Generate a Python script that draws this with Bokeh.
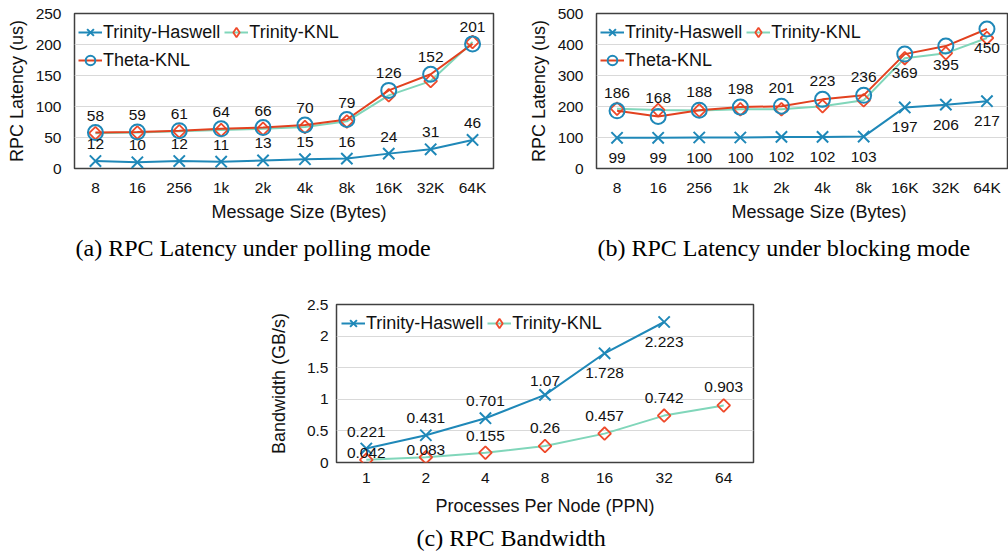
from bokeh.plotting import figure
from bokeh.models import (FactorRange, Range1d, ColumnDataSource, LabelSet, Legend,
                          LegendItem, Title, FixedTicker, NumeralTickFormatter, Spacer)
from bokeh.core.properties import value
from bokeh.layouts import column, row
from bokeh.embed import file_html
from bokeh.resources import INLINE

# ---------------- data ----------------
sizes = ["8", "16", "256", "1k", "2k", "4k", "8k", "16K", "32K", "64K"]
poll_haswell = [12, 10, 12, 11, 13, 15, 16, 24, 31, 46]
poll_trinity_knl = [57, 58, 60, 62, 64, 67, 76, 118, 141, 204]
poll_theta_knl = [58, 59, 61, 64, 66, 70, 79, 126, 152, 201]
poll_yticks = [0, 50, 100, 150, 200, 250]

block_haswell = [99, 99, 100, 100, 102, 102, 103, 197, 206, 217]
block_trinity_knl = [193, 189, 187, 191, 191, 201, 220, 356, 372, 421]
block_theta_knl = [186, 168, 188, 198, 201, 223, 236, 369, 395, 450]
block_yticks = [0, 100, 200, 300, 400, 500]

ppn = ["1", "2", "4", "8", "16", "32", "64"]
bw_haswell = [0.221, 0.431, 0.701, 1.07, 1.728, 2.223]
bw_trinity_knl = [0.042, 0.083, 0.155, 0.26, 0.457, 0.742, 0.903]
bw_yticks = [0, 0.5, 1, 1.5, 2, 2.5]

# ---------------- style ----------------
FONT = "Liberation Sans"
SERIF = "Liberation Serif"
BLUE = "#1f88b8"
RED = "#e2411f"
TEAL = "#80d6ba"
ORANGE = "#ef4a2b"
TXT = "#111111"


def base_fig(cats, ymax, yticks, width, height, ml, mr, mt, mb, ylabel,
             y_lab_standoff, x_lab_standoff, fmt=None):
    p = figure(x_range=FactorRange(factors=cats), y_range=Range1d(0, ymax),
               width=width, height=height, output_backend="svg",
               toolbar_location=None, min_border_left=ml, min_border_right=mr,
               min_border_top=mt, min_border_bottom=mb)
    # range far outside the view: glyphs on it are clipped, used for legend keys only
    p.extra_y_ranges = {"legend_only": Range1d(-2e9, -1e9)}
    p.outline_line_color = "#404040"
    p.outline_line_width = 1.5
    p.xgrid.grid_line_color = None
    p.ygrid.grid_line_color = "#d9d9d9"
    p.ygrid.grid_line_width = 1
    p.yaxis.ticker = FixedTicker(ticks=yticks)
    if fmt is not None:
        p.yaxis.formatter = NumeralTickFormatter(format=fmt)
    for ax in (p.xaxis[0], p.yaxis[0]):
        ax.axis_line_color = None
        ax.major_tick_line_color = None
        ax.minor_tick_line_color = None
        ax.major_tick_out = 0
        ax.major_tick_in = 0
        ax.major_label_text_font = FONT
        ax.major_label_text_font_size = "15.5px"
        ax.major_label_text_color = TXT
        ax.axis_label_text_font = FONT
        ax.axis_label_text_font_size = "18px"
        ax.axis_label_text_font_style = "normal"
        ax.axis_label_text_color = TXT
    p.yaxis.major_label_standoff = y_lab_standoff
    p.xaxis.major_label_standoff = x_lab_standoff
    p.yaxis.axis_label = ylabel
    p.yaxis.axis_label_standoff = 6
    return p


def add_xtitle(p, xlabel, xoff, xstand):
    p.add_layout(Title(text=xlabel, align="left", offset=xoff, standoff=xstand,
                       text_font=FONT, text_font_size="18px",
                       text_font_style="normal", text_color=TXT), "below")


def add_caption(p, caption, coff, cstand):
    p.add_layout(Title(text=caption, align="left", offset=coff, standoff=cstand,
                       text_font=SERIF, text_font_size="24px",
                       text_font_style="normal", text_color="black"), "below")


def series(p, cats, vals, kind):
    src = ColumnDataSource(dict(x=cats[:len(vals)], y=vals))
    if kind == "haswell":
        ln = p.line("x", "y", source=src, line_color=BLUE, line_width=2)
        mk = p.scatter("x", "y", source=src, marker="x", size=16,
                       line_color=BLUE, line_width=2)
        return [ln, mk]
    if kind == "trinity":
        ln = p.line("x", "y", source=src, line_color=TEAL, line_width=2)
        p.scatter("x", "y", source=src, marker="square", size=9,
                  angle=0.785398, line_color=ORANGE, line_width=1.8,
                  fill_color=None)
        # copy on an off-screen range: never visible, gives the legend a diamond key
        proxy = p.scatter("x", "y", source=src, y_range_name="legend_only",
                          marker="diamond", size=12, line_color=ORANGE,
                          line_width=1.8, fill_color=None)
        return [ln, proxy]
    ln = p.line("x", "y", source=src, line_color=RED, line_width=2)
    mk = p.scatter("x", "y", source=src, marker="circle", size=15,
                   line_color=BLUE, line_width=2, fill_color=None)
    return [ln, mk]


def labels(p, cats, vals, offsets):
    src = ColumnDataSource(dict(x=cats[:len(vals)], y=vals,
                                t=[str(v) for v in vals], off=offsets))
    p.add_layout(LabelSet(x="x", y="y", text="t", source=src, y_offset="off",
                          text_align="center", text_baseline="middle",
                          text_font=value(FONT), text_font_size=value("15.5px"),
                          text_color=TXT))


def legend(p, items, loc):
    lg = Legend(items=items, location=loc, orientation="horizontal", padding=0,
                margin=0, spacing=4, glyph_width=24, glyph_height=24,
                label_height=20, label_standoff=1, label_text_font=FONT,
                label_text_font_size="18px", label_text_color=TXT,
                background_fill_alpha=0, border_line_color=None)
    p.add_layout(lg)


# ---------------- (a) polling ----------------
pa = base_fig(sizes, 250, poll_yticks, 525, 280, 74, 32, 13, 112,
              "RPC Latency (us)", 13, 10)
ha = series(pa, sizes, poll_haswell, "haswell")
ka = series(pa, sizes, poll_trinity_knl, "trinity")
ta = series(pa, sizes, poll_theta_knl, "theta")
labels(pa, sizes, poll_haswell, [17] * len(sizes))
labels(pa, sizes, poll_theta_knl, [17] * len(sizes))
legend(pa, [LegendItem(label="Trinity-Haswell", renderers=ha),
            LegendItem(label="Trinity-KNL", renderers=ka)], (4, 124))
legend(pa, [LegendItem(label="Theta-KNL", renderers=ta)], (4, 96))
add_xtitle(pa, "Message Size (Bytes)", 137, 2)
add_caption(pa, "(a) RPC Latency under polling mode", 1, 21)

# ---------------- (b) blocking ----------------
pb = base_fig(sizes, 500, block_yticks, 483, 280, 66, 1, 13, 112,
              "RPC Latency (us)", 13, 10)
hb = series(pb, sizes, block_haswell, "haswell")
kb = series(pb, sizes, block_trinity_knl, "trinity")
tb = series(pb, sizes, block_theta_knl, "theta")
labels(pb, sizes, block_haswell, [-20] * len(sizes))
labels(pb, sizes, block_theta_knl, [18] * 7 + [-19] * 3)
legend(pb, [LegendItem(label="Trinity-Haswell", renderers=hb),
            LegendItem(label="Trinity-KNL", renderers=kb)], (4, 124))
legend(pb, [LegendItem(label="Theta-KNL", renderers=tb)], (4, 96))
add_xtitle(pb, "Message Size (Bytes)", 135, 2)
add_caption(pb, "(b) RPC Latency under blocking mode", 1, 21)

# ---------------- (c) bandwidth ----------------
pc = base_fig(ppn, 2.5, bw_yticks, 508, 277, 69, 20, 24, 95,
              "Bandwidth (GB/s)", 8, 10, fmt="0.[0]")
pc.yaxis.axis_label_standoff = 15
pc.xaxis.axis_label = "Processes Per Node (PPN)"
pc.xaxis.axis_label_standoff = 10
hc = series(pc, ppn, bw_haswell, "haswell")
kc = series(pc, ppn, bw_trinity_knl, "trinity")
labels(pc, ppn, bw_haswell, [17, 17, 17, 14, -20, -20])
labels(pc, ppn, bw_trinity_knl, [7, 7, 17, 18, 18, 18, 18])
legend(pc, [LegendItem(label="Trinity-Haswell", renderers=hc),
            LegendItem(label="Trinity-KNL", renderers=kc)], (5, 127))
add_caption(pc, "(c) RPC Bandwidth", 80, 8)

layout = column(row(pa, pb), row(Spacer(width=265, height=277), pc))

open("out.html", "w").write(file_html(layout, INLINE))
